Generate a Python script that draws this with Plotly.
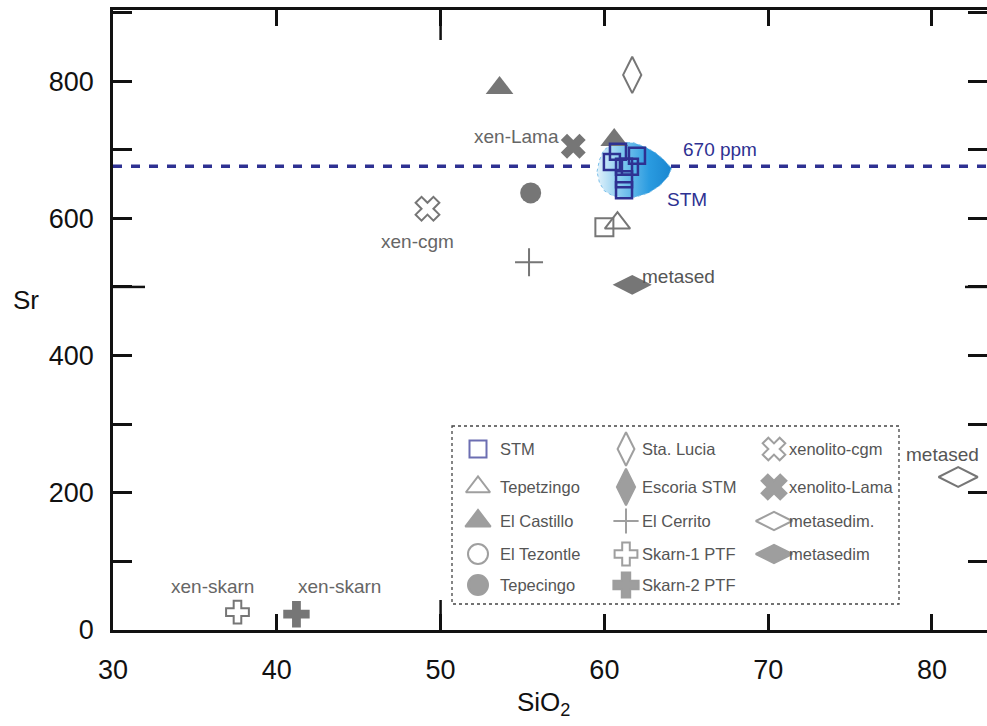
import plotly.graph_objects as go

# ---------------- data (SiO2 wt%, Sr ppm) ----------------
stm_sio2 = [60.83, 61.99, 61.20, 60.46, 61.56, 61.20, 61.20]
stm_sr = [697, 691, 675, 682, 675, 657, 641]

sta_lucia_sio2 = [61.7]
sta_lucia_sr = [809]

el_castillo_sio2 = [53.6, 60.6]
el_castillo_sr = [790, 714]

tepetzingo_sio2 = [60.8]
tepetzingo_sr = [593]

grey_square_sio2 = [60.0]
grey_square_sr = [587]

tepecingo_sio2 = [55.5]
tepecingo_sr = [637]

el_cerrito_sio2 = [55.4]
el_cerrito_sr = [536]

xen_cgm_sio2 = [49.2]
xen_cgm_sr = [614]

xen_lama_sio2 = [58.1]
xen_lama_sr = [705]

metased_open_sio2 = [81.6]
metased_open_sr = [223]

metased_fill_sio2 = [61.7]
metased_fill_sr = [503]

skarn1_sio2 = [37.6]
skarn1_sr = [26]

skarn2_sio2 = [41.2]
skarn2_sr = [23]

threshold_sr = 676
threshold_label = "670 ppm"

# STM field outline
blob_sio2 = [59.55, 59.7, 59.95, 60.4, 61.0, 61.8, 62.5, 63.1, 63.6, 64.1, 63.9, 63.4, 62.7, 61.9, 61.2, 60.5, 60.0, 59.7, 59.55]
blob_sr = [668, 685, 699, 707, 711, 710, 704, 696, 686, 673, 661, 648, 637, 631, 630, 633, 640, 652, 668]

# in-plot labels
labels_text = ["xen-Lama", "xen-cgm", threshold_label, "STM", "metased", "metased", "xen-skarn", "xen-skarn"]
labels_sio2 = [54.66, 48.56, 67.06, 65.04, 64.55, 80.67, 36.1, 43.8]
labels_sr = [719, 566, 700, 627, 515, 256, 64, 64]
labels_color = ["#666", "#666", "#2e3192", "#2e3192", "#555", "#555", "#666", "#666"]

# legend (3 columns)
legend_labels = [
    ["STM", "Tepetzingo", "El Castillo", "El Tezontle", "Tepecingo"],
    ["Sta. Lucia", "Escoria STM", "El Cerrito", "Skarn-1 PTF", "Skarn-2 PTF"],
    ["xenolito-cgm", "xenolito-Lama", "metasedim.", "metasedim"],
]
legend_symbols = [
    ["square-open", "triangle-up-open", "triangle-up", "circle-open", "circle"],
    ["diamond-tall-open", "diamond-tall", "cross-thin-open", "cross-open", "cross"],
    ["x-open", "x", "diamond-wide-open", "diamond-wide"],
]
legend_sizes = [
    [17, 21, 22, 20, 20],
    [24, 26, 18, 19, 21],
    [20, 22, 26, 26],
]

GREY = "#767676"
NAVY = "#2e3192"

# ---------------- geometry ----------------
W, H = 987, 726
L, R, T, B = 113, 0, 10, 96
x_range = [30, 83.36]
y_range = [0, 903.6]
PX0, PX1 = L, W - R
PY0, PY1 = T, H - B

fig = go.Figure()

# STM field
fig.add_trace(go.Scatter(
    x=blob_sio2, y=blob_sr, mode="lines", fill="toself",
    line=dict(color="#7cc0ea", width=1, dash="dot"),
    fillgradient=dict(type="horizontal",
                      colorscale=[[0, "#e2f2fb"], [0.35, "#7cc6ee"], [0.7, "#2a9be0"], [1, "#1a86d0"]]),
    hoverinfo="skip", showlegend=False))


def pts(x, y, symbol, size, color=GREY, lw=2, filled=False):
    fig.add_trace(go.Scatter(
        x=x, y=y, mode="markers", showlegend=False,
        marker=dict(symbol=symbol, size=size, color=color,
                    line=dict(color=color, width=lw if not filled else 0))))


pts(sta_lucia_sio2, sta_lucia_sr, "diamond-tall-open", 26)
pts(el_castillo_sio2, el_castillo_sr, "triangle-up", 24, filled=True)
pts(xen_lama_sio2, xen_lama_sr, "x", 22, filled=True)
pts(xen_cgm_sio2, xen_cgm_sr, "x-open", 21)
pts(tepecingo_sio2, tepecingo_sr, "circle", 21, filled=True)
pts(el_cerrito_sio2, el_cerrito_sr, "cross-thin-open", 20, lw=2)
pts(grey_square_sio2, grey_square_sr, "square-open", 18)
pts(tepetzingo_sio2, tepetzingo_sr, "triangle-up-open", 22)
pts(metased_fill_sio2, metased_fill_sr, "diamond-wide", 28, filled=True)
pts(metased_open_sio2, metased_open_sr, "diamond-wide-open", 28)
pts(skarn1_sio2, skarn1_sr, "cross-open", 19)
pts(skarn2_sio2, skarn2_sr, "cross", 22, filled=True)
pts(stm_sio2, stm_sr, "square-open", 16, color=NAVY, lw=2.5)

# ---------------- legend (pixel overlay axis) ----------------
col_sym_x = [478, 626, 774]
col_txt_x = [498, 640, 787]
row_y = [449, 487, 521, 554, 585]
leg_x, leg_y, leg_sym, leg_size, leg_col = [], [], [], [], []
annotations = []
for c, (labs, syms, sizes) in enumerate(zip(legend_labels, legend_symbols, legend_sizes)):
    for r, (lab, sym, sz) in enumerate(zip(labs, syms, sizes)):
        leg_x.append(col_sym_x[c])
        leg_y.append(row_y[r])
        leg_sym.append(sym)
        leg_size.append(sz)
        leg_col.append(NAVY if lab == "STM" else GREY)
        annotations.append(dict(x=col_txt_x[c], y=row_y[r], xref="x2", yref="y2", text=lab,
                                showarrow=False, xanchor="left", yanchor="middle",
                                font=dict(size=16.5, color="#555", family="Liberation Sans, Arial")))
fig.add_trace(go.Scatter(
    x=leg_x, y=leg_y, xaxis="x2", yaxis="y2", mode="markers", showlegend=False,
    marker=dict(symbol=leg_sym, size=leg_size, color=leg_col, line=dict(color=leg_col, width=2)),
    hoverinfo="skip"))

# in-plot labels
for t, xx, yy, cc in zip(labels_text, labels_sio2, labels_sr, labels_color):
    annotations.append(dict(x=xx, y=yy, text=t, showarrow=False, xanchor="center", yanchor="middle",
                            font=dict(size=19, color=cc, family="Liberation Sans, Arial")))

# axis titles
pw, ph = PX1 - PX0, PY1 - PY0
title_font = dict(size=26, color="#111", family="Liberation Sans Narrow, Liberation Sans, Arial")
annotations.append(dict(x=(26 - PX0) / pw, y=(PY1 - 300) / ph, xref="paper", yref="paper", text="Sr",
                        xanchor="center", yanchor="middle", showarrow=False, font=title_font))
annotations.append(dict(x=(543 - PX0) / pw, y=(PY1 - 703) / ph, xref="paper", yref="paper", text="SiO<sub>2</sub>",
                        xanchor="center", yanchor="middle", showarrow=False, font=title_font))

shapes = [
    dict(type="line", xref="paper", yref="y", x0=0, x1=1, y0=threshold_sr, y1=threshold_sr,
         line=dict(color=NAVY, width=3.5, dash="9px,9px"), layer="below"),
    dict(type="rect", xref="x2", yref="y2", x0=452, x1=899, y0=426, y1=604,
         line=dict(color="#444", width=1.3, dash="dot"), layer="below"),
    dict(type="line", xref="x", yref="paper", x0=50, x1=50, ysizemode="pixel", yanchor=0, y0=0, y1=30,
         line=dict(color="#111", width=2.5)),
    dict(type="line", xref="x", yref="paper", x0=50, x1=50, ysizemode="pixel", yanchor=1, y0=0, y1=-30,
         line=dict(color="#111", width=2.5)),
    dict(type="line", xref="paper", yref="y", y0=500, y1=500, xsizemode="pixel", xanchor=0, x0=0, x1=32,
         line=dict(color="#111", width=2.5)),
    dict(type="line", xref="paper", yref="y", y0=500, y1=500, xsizemode="pixel", xanchor=1, x0=0, x1=-22,
         line=dict(color="#111", width=2.5)),
]

tickfont = dict(size=27, color="#111", family="Liberation Sans Narrow, Liberation Sans, Arial")
x_ticks = [30, 40, 50, 60, 70, 80]
y_ticks = [0, 200, 400, 600, 800]

fig.update_layout(
    width=W, height=H, margin=dict(l=L, r=R, t=T, b=B, autoexpand=False),
    paper_bgcolor="white", plot_bgcolor="white", showlegend=False,
    xaxis=dict(range=x_range, tickvals=x_ticks, ticktext=[str(v) for v in x_ticks],
               ticks="inside", ticklen=16, tickwidth=2.5, tickcolor="#111",
               showline=True, linecolor="#111", linewidth=2.5, mirror="ticks",
               showgrid=False, zeroline=False, tickfont=tickfont, ticklabelstandoff=14),
    yaxis=dict(range=y_range, tickvals=y_ticks, ticktext=[str(v) for v in y_ticks],
               ticks="inside", ticklen=19, tickwidth=2.5, tickcolor="#111",
               minor=dict(ticks="inside", dtick=100, tick0=0, ticklen=19, tickwidth=2.5, tickcolor="#111"),
               showline=True, linecolor="#111", linewidth=2.5, mirror="ticks",
               showgrid=False, zeroline=False, tickfont=tickfont, ticklabelstandoff=11),
    xaxis2=dict(overlaying="x", range=[PX0, PX1], visible=False, fixedrange=True),
    yaxis2=dict(overlaying="y", range=[PY1, PY0], visible=False, fixedrange=True),
    annotations=annotations, shapes=shapes,
)

fig.write_html("out.html", config={"displayModeBar": False},
               post_script="document.body.style.margin='0';document.body.style.overflow='hidden';")
